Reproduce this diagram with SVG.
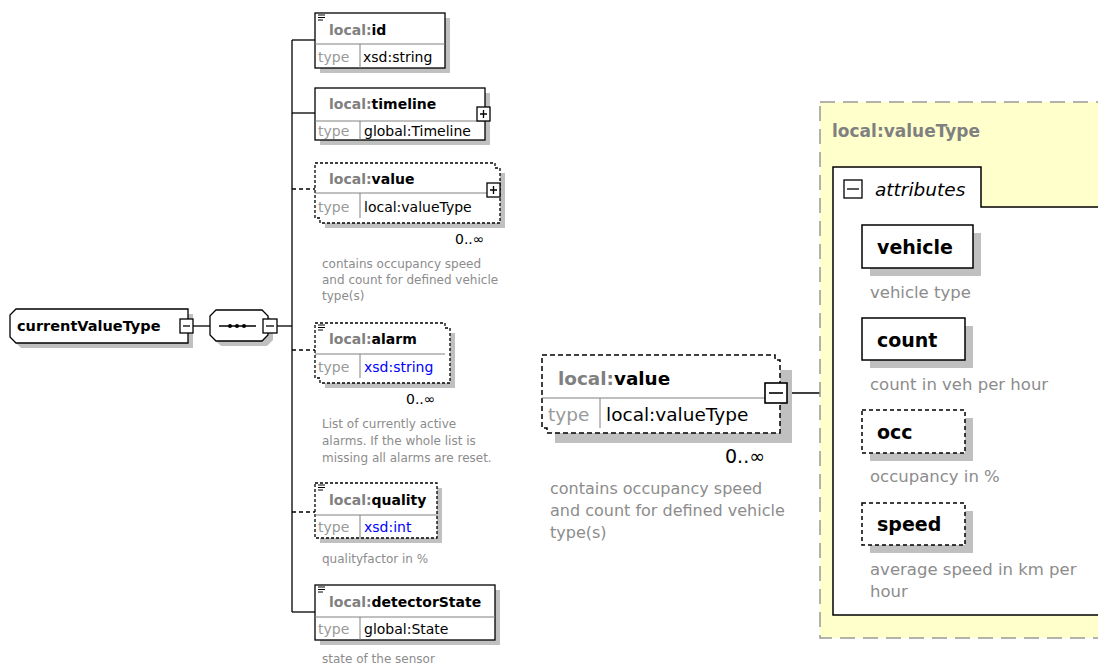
<svg xmlns="http://www.w3.org/2000/svg" width="1098" height="666" viewBox="0 0 1098 666">
<style>
.sh{fill:#c0c0c0;stroke:none}
.bx{fill:#fff;stroke:#000;stroke-width:1.3}
.dbx{fill:#fff;stroke:#000;stroke-width:1.3;stroke-dasharray:3,2}
.dv{stroke:#808080;stroke-width:1;fill:none}
.ln{stroke:#000;stroke-width:1.3;fill:none}
.dln{stroke:#000;stroke-width:1.3;fill:none;stroke-dasharray:4,3}
.lb{font-family:"DejaVu Sans",Verdana,sans-serif;font-size:14px;font-weight:bold;fill:#000}
.g{fill:#808080}
.ty{font-family:"DejaVu Sans",Verdana,sans-serif;font-size:14px;fill:#000}
.tg{fill:#999}
.bl{fill:#0000ff}
.ds{font-family:"DejaVu Sans",Verdana,sans-serif;font-size:12px;fill:#8c8c8c}
.oc{font-family:"DejaVu Sans",Verdana,sans-serif;font-size:14px;fill:#000}
.doc{stroke:#000;stroke-width:1;fill:none}
.rd{font-size:16.5px}
.ab{font-size:19px}
</style>
<defs>
<g id="docicon"><path class="doc" d="M0,0H7M0,2.5H7M0,5H5"/></g>
</defs>

<g id="connectors">
<path class="ln" d="M193,326H210"/>
<path class="ln" d="M277,326H292"/>
<path class="ln" d="M292,40V612"/>
<path class="ln" d="M292,40H315"/>
<path class="ln" d="M292,113H315"/>
<path class="dln" d="M292,189H315"/>
<path class="dln" d="M292,350H315"/>
<path class="dln" d="M292,512H315"/>
<path class="ln" d="M292,612H315"/>
<path class="ln" d="M787,393H833"/>
</g>

<g id="currentValueType">
<path class="sh" d="M21,314H193V348H21L15,342V320Z"/>
<path class="bx" d="M16,309H188V343H16L10,337V315Z"/>
<text class="lb" x="17" y="331" style="font-size:14.5px">currentValueType</text>
<rect class="bx" x="180" y="319" width="13" height="14"/>
<path class="ln" d="M183,326H190"/>
</g>

<g id="sequence">
<path class="sh" d="M221,315H267L273,321V340L267,346H221L215,340V321Z"/>
<path class="bx" d="M216,310H262L268,316V335L262,341H216L210,335V316Z"/>
<path class="ln" d="M219,326H256"/>
<circle cx="230" cy="326" r="2"/><circle cx="237" cy="326" r="2"/><circle cx="244" cy="326" r="2"/>
<rect class="bx" x="263" y="319" width="14" height="14"/>
<path class="ln" d="M266,326H274"/>
</g>

<g id="local-id">
<rect class="sh" x="320" y="18" width="130" height="55"/>
<rect class="bx" x="315" y="13" width="130" height="55"/>
<path class="dv" d="M315,44H445M360,44V68"/>
<use href="#docicon" x="318" y="15"/>
<text class="lb" x="329" y="35"><tspan class="g">local:</tspan>id</text>
<text class="ty" x="318" y="62"><tspan class="tg">type</tspan></text>
<text class="ty" x="363" y="62">xsd:string</text>
</g>

<g id="local-timeline">
<rect class="sh" x="320" y="93" width="170" height="52"/>
<rect class="bx" x="315" y="88" width="170" height="52"/>
<path class="dv" d="M315,121H485M360,121V140"/>
<text class="lb" x="329" y="109"><tspan class="g">local:</tspan>timeline</text>
<text class="ty" x="318" y="136"><tspan class="tg">type</tspan></text>
<text class="ty" x="364" y="136">global:Timeline</text>
<rect class="bx" x="477" y="107" width="13" height="14"/>
<path class="ln" d="M480,114H487M483.5,110V118"/>
</g>

<g id="local-value-left">
<rect class="sh" x="325" y="173" width="180" height="55"/>
<path class="dbx" d="M315,163H495V168H500V223H320V218H315Z"/>
<path class="dv" d="M315,193H495M360,193V218"/>
<text class="lb" x="329" y="184"><tspan class="g">local:</tspan>value</text>
<text class="ty" x="318" y="212"><tspan class="tg">type</tspan></text>
<text class="ty" x="364" y="212">local:valueType</text>
<rect class="bx" x="487" y="183" width="13" height="14"/>
<path class="ln" d="M490,190H497M493.5,186V194"/>
<text class="oc" x="455" y="244">0..∞</text>
<text class="ds" x="322" y="268">contains occupancy speed</text>
<text class="ds" x="322" y="284">and count for defined vehicle</text>
<text class="ds" x="322" y="300">type(s)</text>
</g>

<g id="local-alarm">
<rect class="sh" x="325" y="333" width="130" height="55"/>
<path class="dbx" d="M315,323H445V328H450V383H320V378H315Z"/>
<path class="dv" d="M315,354H445M360,354V378"/>
<use href="#docicon" x="318" y="325"/>
<text class="lb" x="329" y="344"><tspan class="g">local:</tspan>alarm</text>
<text class="ty" x="318" y="372"><tspan class="tg">type</tspan></text>
<text class="ty bl" x="364" y="372">xsd:string</text>
<text class="oc" x="406" y="404">0..∞</text>
<text class="ds" x="322" y="428">List of currently active</text>
<text class="ds" x="322" y="445">alarms. If the whole list is</text>
<text class="ds" x="322" y="462">missing all alarms are reset.</text>
</g>

<g id="local-quality">
<rect class="sh" x="320" y="488" width="122" height="55"/>
<rect class="dbx" x="315" y="483" width="122" height="55"/>
<path class="dv" d="M315,515H437M360,515V538"/>
<use href="#docicon" x="318" y="485"/>
<text class="lb" x="329" y="505"><tspan class="g">local:</tspan>quality</text>
<text class="ty" x="318" y="532"><tspan class="tg">type</tspan></text>
<text class="ty bl" x="364" y="532">xsd:int</text>
<text class="ds" x="322" y="563">qualityfactor in %</text>
</g>

<g id="local-detectorState">
<rect class="sh" x="320" y="590" width="180" height="55"/>
<rect class="bx" x="315" y="585" width="180" height="55"/>
<path class="dv" d="M315,617H495M360,617V640"/>
<use href="#docicon" x="318" y="587"/>
<text class="lb" x="329" y="607"><tspan class="g">local:</tspan>detectorState</text>
<text class="ty" x="318" y="634"><tspan class="tg">type</tspan></text>
<text class="ty" x="364" y="634">global:State</text>
<text class="ds" x="322" y="663">state of the sensor</text>
</g>

<g id="local-value-main">
<rect class="sh" x="555" y="370" width="237" height="73"/>
<path class="dbx" d="M542,355H775V360H780V433H547V428H542Z" style="stroke-dasharray:5,3;stroke-width:1.5"/>
<path class="dv" d="M542,398H775M600,398V428"/>
<text class="lb" x="558" y="385" style="font-size:18.4px"><tspan class="g">local:</tspan>value</text>
<text class="ty" x="548" y="421" style="font-size:18.5px"><tspan class="tg">type</tspan></text>
<text class="ty" x="606" y="421" style="font-size:18.5px">local:valueType</text>
<rect class="bx" x="765" y="383" width="22" height="20" style="stroke-width:1.6"/>
<path class="ln" d="M769,393H783" style="stroke-width:1.6"/>
<text class="oc" x="725" y="463" style="font-size:19px">0..∞</text>
<text class="ds" x="550" y="494" style="font-size:16px">contains occupancy speed</text>
<text class="ds" x="550" y="516" style="font-size:16px">and count for defined vehicle</text>
<text class="ds" x="550" y="538" style="font-size:16px">type(s)</text>
</g>

<g id="local-valueType">
<rect x="820" y="102" width="290" height="536" fill="#ffffcc" stroke="#999" stroke-width="1.5" stroke-dasharray="15,8"/>
<text class="lb g" x="832" y="137" style="font-size:17px">local:valueType</text>
<path d="M833,167H981V207H1110V615H833Z" fill="#fff" stroke="#000" stroke-width="1.5"/>
<rect class="bx" x="844" y="180" width="18" height="18"/>
<path class="ln" d="M847,189H859"/>
<text x="875" y="196" style="font-family:'DejaVu Sans',Verdana,sans-serif;font-size:18.5px;font-style:italic;fill:#000">attributes</text>
</g>

<g id="attr-vehicle">
<rect class="sh" x="870" y="233" width="111" height="43"/>
<rect class="bx" x="862" y="225" width="111" height="43" style="stroke-width:1.5"/>
<text class="lb ab" x="877" y="254">vehicle</text>
<text class="ds rd" x="870" y="298">vehicle type</text>
</g>

<g id="attr-count">
<rect class="sh" x="870" y="326" width="103" height="42"/>
<rect class="bx" x="862" y="318" width="103" height="42" style="stroke-width:1.5"/>
<text class="lb ab" x="877" y="347">count</text>
<text class="ds rd" x="870" y="390">count in veh per hour</text>
</g>

<g id="attr-occ">
<rect class="sh" x="870" y="418" width="103" height="43"/>
<rect class="dbx" x="862" y="410" width="103" height="43" style="stroke-width:1.5;stroke-dasharray:4,3"/>
<text class="lb ab" x="877" y="439">occ</text>
<text class="ds rd" x="870" y="482">occupancy in %</text>
</g>

<g id="attr-speed">
<rect class="sh" x="870" y="511" width="103" height="42"/>
<rect class="dbx" x="862" y="503" width="103" height="42" style="stroke-width:1.5;stroke-dasharray:4,3"/>
<text class="lb ab" x="877" y="531">speed</text>
<text class="ds rd" x="870" y="575">average speed in km per</text>
<text class="ds rd" x="870" y="597">hour</text>
</g>
</svg>
